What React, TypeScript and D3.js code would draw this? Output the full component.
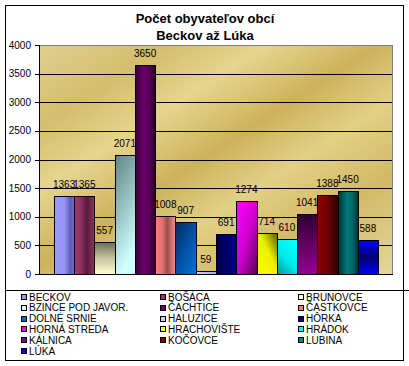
import * as d3 from 'd3'

// villages (series), in chart order
const villages = [
  'Beckov', 'Bošáca', 'Brunovce', 'Bzince pod Javor.', 'Čachtice', 'Častkovce',
  'Dolné Srnie', 'Haluzice', 'Hôrka', 'Horná Streda', 'Hrachovište', 'Hrádok',
  'Kálnica', 'Kočovce', 'Lubina', 'Lúka',
]
const population = [1363, 1365, 557, 2071, 3650, 1008, 907, 59, 691, 1274, 714, 610, 1041, 1388, 1450, 588]
const yTicks = [0, 500, 1000, 1500, 2000, 2500, 3000, 3500, 4000]
const titleLines = ['Počet obyvateľov obcí', 'Beckov až Lúka']

// old Excel palette + gradient fill per series
const baseColors = [
  '#9999FF', '#993366', '#FFFFCC', '#CCFFFF', '#660066', '#FF8080', '#0066CC', '#CCCCFF',
  '#000080', '#FF00FF', '#FFFF00', '#00FFFF', '#800080', '#800000', '#008080', '#0000FF',
]
const fills: { dir: [number, number, number, number]; stops: [number, string][] }[] = [
  { dir: [0, 0, 1, 0], stops: [[0, '#9c9cff'], [0.5, '#9494f8'], [0.8, '#5c5cb0'], [1, '#7474d4']] },
  { dir: [0, 0, 1, 0], stops: [[0, '#a03c6c'], [0.35, '#8c2e5e'], [0.62, '#581a3a'], [1, '#8e3462']] },
  { dir: [0, 0, 0, 1], stops: [[0, '#6e6e58'], [0.5, '#c6c6a0'], [1, '#ffffd2']] },
  { dir: [0, 0, 0.3, 1], stops: [[0, '#648484'], [0.5, '#98c2c2'], [1, '#d2ffff']] },
  { dir: [0, 0, 1, 0], stops: [[0, '#360036'], [0.4, '#6a006a'], [0.7, '#560056'], [1, '#280028']] },
  { dir: [0, 0, 1, 0], stops: [[0, '#ff8282'], [0.35, '#e07070'], [0.6, '#985050'], [0.8, '#d07070'], [1, '#ff8a8a']] },
  { dir: [0, 0, 1, 1], stops: [[0, '#0a2a5a'], [0.5, '#0052a6'], [1, '#0a72dc']] },
  { dir: [0, 0, 1, 0], stops: [[0, '#ccccff'], [1, '#a8a8e0']] },
  { dir: [0, 0, 1, 0], stops: [[0, '#000048'], [1, '#000090']] },
  { dir: [0, 0, 1, 1], stops: [[0, '#ff00ff'], [0.5, '#d000d0'], [1, '#500050']] },
  { dir: [0, 1, 1, 0], stops: [[0, '#ffff00'], [0.55, '#eeee00'], [1, '#5a5a00']] },
  { dir: [0, 1, 0.6, 0], stops: [[0, '#009898'], [0.5, '#00e8e8'], [1, '#00ffff']] },
  { dir: [0, 0, 0, 1], stops: [[0, '#300030'], [1, '#940094']] },
  { dir: [0, 0, 1, 0], stops: [[0, '#8c0000'], [0.5, '#6c0000'], [1, '#2a0000']] },
  { dir: [0, 0, 1, 0], stops: [[0, '#003434'], [0.45, '#007a7a'], [0.7, '#006666'], [1, '#002e2e']] },
  { dir: [0, 0, 0, 1], stops: [[0, '#0000ff'], [0.5, '#000070'], [1, '#0000ff']] },
]

const W = 409
const H = 366
const plot = { left: 39, top: 45, right: 393, bottom: 274 }
const font = 'Liberation Sans, Arial, sans-serif'

export default function App() {
  const x = d3.scaleBand<string>().domain(villages).range([plot.left, plot.right]).paddingInner(0).paddingOuter(0.74)
  const y = d3.scaleLinear().domain([0, 4000]).range([plot.bottom, plot.top])
  const bw = x.bandwidth()
  const snap = (v: number) => Math.round(v) + 0.5

  const legendCols = [21, 160, 298]
  const legendRow = d3.scaleLinear().domain([0, 1]).range([297, 307.8])

  return (
    <svg width={W} height={H} style={{ position: 'absolute', left: 0, top: 0, background: '#fff' }}>
      <defs>
        <linearGradient id="bg" x1="0" y1="0" x2="1" y2="1">
          <stop offset="0" stopColor="#e0cf90" />
          <stop offset="0.18" stopColor="#d4bd6c" />
          <stop offset="0.32" stopColor="#e6d58e" />
          <stop offset="0.48" stopColor="#cdb25c" />
          <stop offset="0.62" stopColor="#e2d086" />
          <stop offset="0.78" stopColor="#d2b965" />
          <stop offset="1" stopColor="#e4d69a" />
        </linearGradient>
        {fills.map((f, i) => (
          <linearGradient key={i} id={`g${i}`} x1={f.dir[0]} y1={f.dir[1]} x2={f.dir[2]} y2={f.dir[3]}>
            {f.stops.map(([o, c], j) => <stop key={j} offset={o} stopColor={c} />)}
          </linearGradient>
        ))}
      </defs>

      {/* chart frame */}
      <rect x={5.5} y={5.5} width={398} height={355} fill="#fff" stroke="#000" />

      {/* title */}
      {titleLines.map((t, i) => (
        <text key={i} x={205} y={22.5 + i * 17} textAnchor="middle" fontFamily={font} fontWeight="bold" fontSize={13}>{t}</text>
      ))}

      {/* plot area */}
      <rect x={plot.left} y={plot.top} width={plot.right - plot.left} height={plot.bottom - plot.top} fill="url(#bg)" />
      {yTicks.filter(t => t > 0 && t < 4000).map(t => (
        <line key={t} x1={plot.left} x2={plot.right} y1={snap(y(t))} y2={snap(y(t))} stroke="#000" />
      ))}
      <rect x={plot.left + 0.5} y={plot.top + 0.5} width={plot.right - plot.left - 1} height={plot.bottom - plot.top} fill="none" stroke="#808080" />

      {/* bars */}
      {villages.map((v, i) => {
        const x0 = snap(x(v)!)
        const x1 = snap(x(v)! + bw)
        const top = snap(y(population[i]))
        return (
          <rect key={v} x={x0} y={top} width={x1 - x0} height={plot.bottom + 0.5 - top}
            fill={`url(#g${i})`} stroke="#000" />
        )
      })}

      {/* axes */}
      <line x1={plot.left + 0.5} x2={plot.left + 0.5} y1={plot.top} y2={plot.bottom + 1} stroke="#000" />
      <line x1={plot.left} x2={plot.right} y1={plot.bottom + 0.5} y2={plot.bottom + 0.5} stroke="#000" />
      {yTicks.map(t => (
        <g key={t}>
          <line x1={plot.left - 4} x2={plot.left} y1={snap(y(t))} y2={snap(y(t))} stroke="#000" />
          <text x={31} y={y(t)} dy="0.35em" textAnchor="end" fontFamily={font} fontSize={10}>{t}</text>
        </g>
      ))}

      {/* data labels */}
      {villages.map((v, i) => (
        <text key={v} x={x(v)! + bw / 2} y={y(population[i]) - 8} textAnchor="middle" fontFamily={font} fontSize={10}>
          {population[i]}
        </text>
      ))}

      {/* legend */}
      <line x1={5} x2={W} y1={290.5} y2={290.5} stroke="#000" />
      {villages.map((v, i) => {
        const cx = legendCols[i % 3]
        const cy = legendRow(Math.floor(i / 3))
        return (
          <g key={v}>
            <rect x={cx + 0.5} y={Math.round(cy - 3) + 0.5} width={5} height={5} fill={baseColors[i]} stroke="#000" />
            <text x={cx + 8} y={cy} dy="0.36em" fontFamily={font} fontSize={10}>{v.toUpperCase()}</text>
          </g>
        )
      })}
    </svg>
  )
}
